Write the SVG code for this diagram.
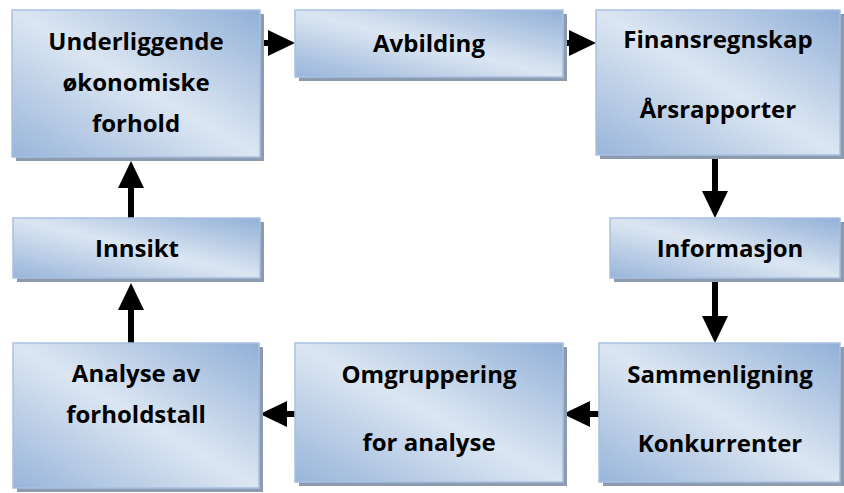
<svg xmlns="http://www.w3.org/2000/svg" width="844" height="493" viewBox="0 0 844 493">
  <defs>
    <linearGradient id="boxFill" x1="0" y1="1" x2="1" y2="0">
      <stop offset="0" stop-color="#98b5da"/>
      <stop offset="0.5" stop-color="#dce6f2"/>
      <stop offset="1" stop-color="#91b0d7"/>
    </linearGradient>
    <marker id="head" markerUnits="userSpaceOnUse" markerWidth="27" markerHeight="26" refX="6" refY="13" orient="auto">
      <path d="M0,0 L27,13 L0,26 Z" fill="#000"/>
    </marker>
  </defs>
  <style>
    .shadow { fill: #8d9bb0; }
    .box { fill: url(#boxFill); stroke: #a9c1e0; stroke-width: 1.5; }
    .label { font-family: "Open Sans", "Liberation Sans", sans-serif; font-weight: 700; font-size: 24px; fill: #000; text-anchor: middle; }
    .conn { stroke: #000; stroke-width: 6; fill: none; marker-end: url(#head); }
  </style>
  <rect width="844" height="493" fill="#fff"/>

  <!-- connectors -->
  <g id="connectors">
    <path class="conn" d="M260,43 H274"/>
    <path class="conn" d="M563,43 H575"/>
    <path class="conn" d="M715,157 V197"/>
    <path class="conn" d="M715,282 V322"/>
    <path class="conn" d="M599,414 H584"/>
    <path class="conn" d="M295,414 H281"/>
    <path class="conn" d="M131,343 V304"/>
    <path class="conn" d="M131,218 V182"/>
  </g>

  <g id="underliggende">
    <rect class="shadow" x="16" y="14" width="248" height="147"/>
    <rect class="box" x="12" y="10" width="248" height="147"/>
    <text class="label" x="136" y="50">Underliggende</text>
    <text class="label" x="136" y="91">økonomiske</text>
    <text class="label" x="136" y="132">forhold</text>
  </g>

  <g id="avbilding">
    <rect class="shadow" x="299" y="14" width="268" height="67"/>
    <rect class="box" x="295" y="10" width="268" height="67"/>
    <text class="label" x="429" y="52">Avbilding</text>
  </g>

  <g id="finansregnskap">
    <rect class="shadow" x="600" y="14" width="244" height="145"/>
    <rect class="box" x="596" y="10" width="244" height="145"/>
    <text class="label" x="718" y="48">Finansregnskap</text>
    <text class="label" x="718" y="118">Årsrapporter</text>
  </g>

  <g id="informasjon">
    <rect class="shadow" x="614" y="222" width="230" height="60"/>
    <rect class="box" x="610" y="218" width="230" height="60"/>
    <text class="label" x="730" y="257">Informasjon</text>
  </g>

  <g id="sammenligning">
    <rect class="shadow" x="603" y="347" width="241" height="139"/>
    <rect class="box" x="599" y="343" width="241" height="139"/>
    <text class="label" x="720" y="383">Sammenligning</text>
    <text class="label" x="720" y="452">Konkurrenter</text>
  </g>

  <g id="omgruppering">
    <rect class="shadow" x="299" y="347" width="268" height="139"/>
    <rect class="box" x="295" y="343" width="268" height="139"/>
    <text class="label" x="429" y="383">Omgruppering</text>
    <text class="label" x="429" y="451">for analyse</text>
  </g>

  <g id="analyse">
    <rect class="shadow" x="17" y="347" width="246" height="145"/>
    <rect class="box" x="13" y="343" width="246" height="145"/>
    <text class="label" x="136" y="382">Analyse av</text>
    <text class="label" x="136" y="423">forholdstall</text>
  </g>

  <g id="innsikt">
    <rect class="shadow" x="17" y="222" width="247" height="60"/>
    <rect class="box" x="13" y="218" width="247" height="60"/>
    <text class="label" x="137" y="257">Innsikt</text>
  </g>
</svg>
